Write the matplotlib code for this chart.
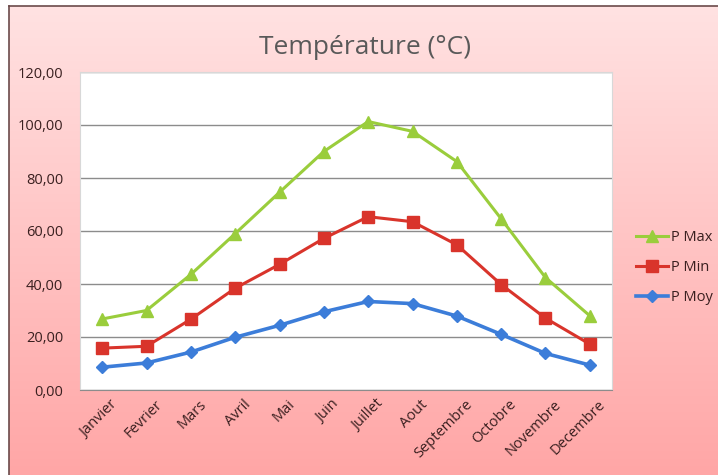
import numpy as np
import matplotlib as mpl
from matplotlib import pyplot as plt

months = ['Janvier', 'Fevrier', 'Mars', 'Avril', 'Mai', 'Juin', 'Juillet',
          'Aout', 'Septembre', 'Octobre', 'Novembre', 'Decembre']
p_max = [26.8, 30.0, 43.6, 59.0, 74.6, 90.0, 101.3, 97.6, 86.2, 64.6, 42.4, 28.0]
p_min = [15.8, 16.5, 26.7, 38.4, 47.4, 57.2, 65.4, 63.5, 54.8, 39.8, 27.1, 17.3]
p_moy = [8.6, 10.2, 14.3, 19.9, 24.4, 29.5, 33.4, 32.6, 27.9, 21.0, 13.8, 9.4]
yticks = [0, 20, 40, 60, 80, 100, 120]

mpl.rcParams['font.family'] = ['Open Sans', 'DejaVu Sans']

fig = plt.figure(figsize=(7.18, 4.75), dpi=100)

# pink gradient background of the chart area
bg = fig.add_axes([9 / 718, 0, 1 - 9 / 718, 1 - 6 / 475], zorder=-10)
top = np.array([255, 226, 226]) / 255
bot = np.array([255, 166, 166]) / 255
t = np.linspace(0, 1, 256)[:, None]
grad = (top * (1 - t) + bot * t)[:, None, :]
bg.imshow(grad, aspect='auto', extent=[0, 1, 0, 1])
bg.set_axis_off()
fig.add_artist(mpl.lines.Line2D([9 / 718, 9 / 718], [0, 1 - 6 / 475],
                                color='#6b4a4a', lw=1.2))
fig.add_artist(mpl.lines.Line2D([9 / 718, 1], [1 - 6 / 475, 1 - 6 / 475],
                                color='#6b4a4a', lw=1.2))

ax = fig.add_axes([80 / 718, 85 / 475, 532 / 718, 318 / 475])
ax.set_facecolor('white')
x = np.arange(len(months))
ax.plot(x, p_max, color='#9ACD3C', lw=2.2, marker='^', ms=9, label='P Max')
ax.plot(x, p_min, color='#D9342B', lw=2.2, marker='s', ms=8, label='P Min')
ax.plot(x, p_moy, color='#3C7DD9', lw=2.6, marker='D', ms=6.5, label='P Moy')

ax.set_xlim(-0.5, len(months) - 0.5)
ax.set_ylim(0, 120)
ax.set_yticks(yticks)
ax.set_yticklabels(['{:.2f}'.format(v).replace('.', ',') for v in yticks])
ax.set_xticks(x)
ax.set_xticklabels(months, rotation=45, ha='right', rotation_mode='anchor')
ax.tick_params(length=0, labelsize=10.5, labelcolor='#3a2020')
ax.tick_params(axis='y', pad=12)
ax.tick_params(axis='x', pad=5)
shift = mpl.transforms.ScaledTranslation(0.08, 0, fig.dpi_scale_trans)
for lab in ax.get_xticklabels():
    lab.set_transform(lab.get_transform() + shift)
ax.grid(axis='y', color='#8c8c8c', lw=1)
ax.set_axisbelow(True)
for s in ['top', 'right', 'left']:
    ax.spines[s].set_color('#d8d8d8')
ax.spines['bottom'].set_color('#8c8c8c')

fig.text(365 / 718, 1 - 48 / 475, 'Température (°C)', ha='center', va='center',
         fontsize=19, color='#595959')

ax.legend(loc='center left', bbox_to_anchor=(1.02, 0.385), frameon=False,
          fontsize=10.5, labelcolor='#3a2020', handlelength=2.2,
          handletextpad=0.2, labelspacing=1.0)

fig.savefig('out.png', dpi=100)
